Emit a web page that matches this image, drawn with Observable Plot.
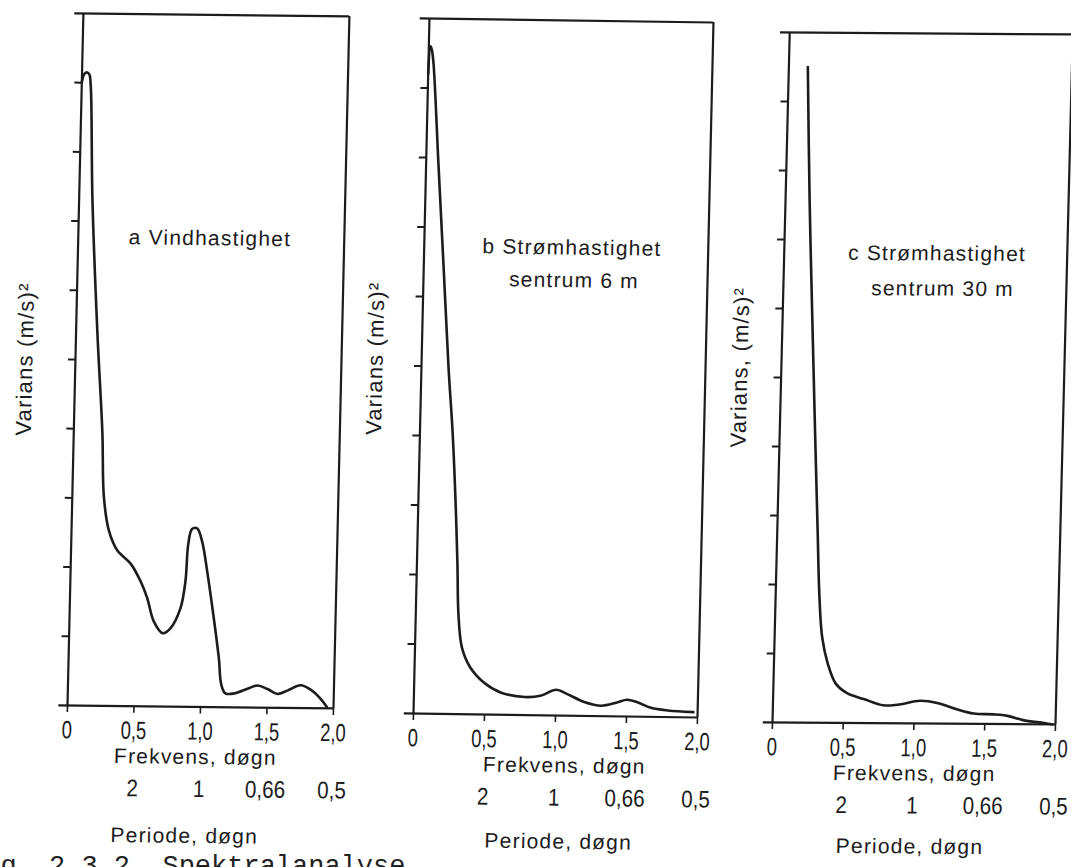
<!DOCTYPE html>
<html><head><meta charset="utf-8">
<script src="https://cdn.jsdelivr.net/npm/d3@7"></script>
<script src="https://cdn.jsdelivr.net/npm/@observablehq/plot@0.6"></script>
<style>
html,body{margin:0;padding:0;background:#fff;}
#page{position:relative;width:1071px;height:867px;overflow:hidden;background:#fff;}
#page svg{position:absolute;overflow:visible;}
.caption{position:absolute;left:-32px;top:854px;font-family:"Liberation Mono",monospace;font-size:27px;line-height:27px;color:#222;white-space:pre;}
</style></head><body><div id="page"></div>
<script>
// ---- data ----
const freqTicks = [0, 0.5, 1, 1.5, 2];
const freqTickLabels = ["0", "0,5", "1,0", "1,5", "2,0"];
const periodTicks = [0.5, 1, 1.5, 2];
const periodLabels = ["2", "1", "0,66", "0,5"];
const varianceTicks = [1, 2, 3, 4, 5, 6, 7, 8, 9];
const freqAxisTitle = "Frekvens, døgn";
const periodAxisTitle = "Periode, døgn";
const captionText = "Fig. 2.3.2. Spektralanalyse";

const aFreq = [0, 0.015, 0.035, 0.055, 0.068, 0.10, 0.16, 0.215, 0.237, 0.28, 0.347, 0.45, 0.527, 0.58, 0.634, 0.704, 0.76, 0.832, 0.865, 0.88, 0.906, 0.944, 0.984, 1.027, 1.085, 1.13, 1.152, 1.185, 1.25, 1.35, 1.426, 1.50, 1.577, 1.65, 1.75, 1.83, 1.89, 1.95];
const aVar  = [9.0, 9.12, 9.15, 9.12, 8.95, 7.32, 5.4, 3.95, 3.03, 2.54, 2.25, 2.06, 1.81, 1.57, 1.23, 1.06, 1.13, 1.42, 1.81, 2.35, 2.57, 2.58, 2.39, 1.96, 1.28, 0.70, 0.33, 0.2, 0.2, 0.27, 0.32, 0.27, 0.2, 0.25, 0.33, 0.26, 0.16, 0.02];

const bFreq = [0, 0.012, 0.022, 0.036, 0.087, 0.139, 0.19, 0.23, 0.26, 0.285, 0.30, 0.33, 0.39, 0.49, 0.61, 0.78, 0.89, 1.0, 1.08, 1.2, 1.32, 1.43, 1.5, 1.57, 1.67, 1.79, 1.97];
const bVar  = [9.2, 9.6, 9.55, 9.35, 7.9, 6.45, 5.0, 4.05, 3.12, 2.17, 1.45, 0.96, 0.68, 0.46, 0.32, 0.26, 0.28, 0.37, 0.31, 0.2, 0.15, 0.2, 0.24, 0.21, 0.13, 0.095, 0.076];

const cFreq = [0.134, 0.17, 0.215, 0.25, 0.285, 0.31, 0.336, 0.38, 0.44, 0.525, 0.64, 0.78, 0.88, 1.04, 1.16, 1.30, 1.42, 1.56, 1.66, 1.77, 1.92, 1.98];
const cVar  = [9.5, 7.58, 5.65, 4.2, 2.79, 1.81, 1.24, 0.86, 0.57, 0.43, 0.35, 0.26, 0.27, 0.33, 0.3, 0.21, 0.15, 0.14, 0.12, 0.06, 0.02, 0.0];

const aTitles = ["a Vindhastighet"];
const bTitles = ["b Strømhastighet", "sentrum 6 m"];
const cTitles = ["c Strømhastighet", "sentrum 30 m"];
const yTitles = ["Varians (m/s)²", "Varians (m/s)²", "Varians, (m/s)²"];

// ---- layout ----
const ink = "#1c1c1c";
const wide = "Liberation Sans, Arial, sans-serif";
const narrowTick = "Liberation Sans, Arial, Helvetica, sans-serif";
const narrowPeriod = "Liberation Sans, Helvetica, Arial, sans-serif";
const squeeze = {[narrowTick]: 0.74, [narrowPeriod]: 0.86};

const panels = [
  {freq: aFreq, vari: aVar, titles: aTitles, yTitle: yTitles[0],
   x0: 67, y0: 705, W: 266, H: 692, sx: -0.023, sy: 0.011,
   titlePos: [[0.99, 6.77]], yDx: -50, yDy: 0, freqX: 0.97, periodX: 0.9, periodDy: 136},
  {freq: bFreq, vari: bVar, titles: bTitles, yTitle: yTitles[1],
   x0: 413, y0: 713, W: 284, H: 695, sx: -0.023, sy: 0.014,
   titlePos: [[1.04, 6.73], [1.06, 6.26]], yDx: -46, yDy: -7, freqX: 1.07, periodX: 1.04, periodDy: 133},
  {freq: cFreq, vari: cVar, titles: cTitles, yTitle: yTitles[2],
   x0: 772, y0: 722, W: 283, H: 690, sx: -0.025, sy: 0.007,
   titlePos: [[1.08, 6.81], [1.125, 6.30]], yDx: -41, yDy: -10, freqX: 1.01, periodX: 0.99, periodDy: 130}
];

const page = document.getElementById("page");

function condense(t, s) {
  const tr = t.getAttribute("transform");
  if (tr) {
    t.setAttribute("transform", tr + ` scale(${s},1)`);
  } else {
    const x = parseFloat(t.getAttribute("x"));
    const y = parseFloat(t.getAttribute("y"));
    const xs = t.getAttribute("x"), ys = t.getAttribute("y");
    const nx = (xs !== null && /^-?[\d.]+$/.test(xs)) ? x : 0;
    const ny = (ys !== null && /^-?[\d.]+$/.test(ys)) ? y : 0;
    if (xs !== null && /^-?[\d.]+$/.test(xs)) t.setAttribute("x", 0);
    if (ys !== null && /^-?[\d.]+$/.test(ys)) t.setAttribute("y", 0);
    t.setAttribute("transform", `translate(${nx},${ny}) scale(${s},1)`);
  }
}

function makePanel(p) {
  const ml = 70, mr = 20, mt = 20, mb = 150;
  const data = p.freq.map((f, i) => ({f, v: p.vari[i]}));
  const svg = Plot.plot({
    width: ml + p.W + mr, height: mt + p.H + mb,
    marginLeft: ml, marginRight: mr, marginTop: mt, marginBottom: mb,
    x: {domain: [0, 2]},
    y: {domain: [0, 10]},
    style: {background: "transparent", color: ink, fontFamily: wide},
    marks: [
      Plot.ruleY([0, 10], {x1: -0.065, x2: 2, stroke: ink, strokeWidth: 2.2}),
      Plot.ruleX([0, 2], {y1: 0, y2: 10, stroke: ink, strokeWidth: 2.2}),
      Plot.axisY({ticks: varianceTicks, tickSize: 7, tickFormat: () => "", label: null, stroke: ink, strokeWidth: 2}),
      Plot.axisX({ticks: freqTicks, tickSize: 7, tickPadding: 8,
        tickFormat: d => freqTickLabels[freqTicks.indexOf(d)], label: null,
        fontSize: 25, fontFamily: narrowTick, stroke: ink, strokeWidth: 1.6, fill: ink}),
      Plot.text(periodTicks, {x: d => d, frameAnchor: "bottom", dy: 90,
        text: (d, i) => periodLabels[i], fontSize: 24, fontFamily: narrowPeriod, fill: ink}),
      Plot.text([freqAxisTitle], {x: () => p.freqX, frameAnchor: "bottom", dy: 57,
        text: d => d, fontSize: 21, fontFamily: wide, fill: ink}),
      Plot.text([periodAxisTitle], {x: () => p.periodX, frameAnchor: "bottom", dy: p.periodDy,
        text: d => d, fontSize: 21, fontFamily: wide, fill: ink}),
      Plot.text(p.titles, {x: (d, i) => p.titlePos[i][0], y: (d, i) => p.titlePos[i][1],
        text: d => d, fontSize: 21, fontFamily: wide, fill: ink}),
      Plot.text([p.yTitle], {frameAnchor: "left", textAnchor: "middle", rotate: -90, dx: p.yDx, dy: p.yDy,
        text: d => d, fontSize: 22, fontFamily: wide, fill: ink}),
      Plot.line(data, {x: "f", y: "v", curve: "catmull-rom", stroke: ink, strokeWidth: 2.6})
    ]
  });
  svg.style.left = (p.x0 - ml) + "px";
  svg.style.top = (p.y0 - p.H - mt) + "px";
  svg.style.transformOrigin = `${ml}px ${mt + p.H}px`;
  svg.style.transform = `matrix(1, ${p.sy}, ${p.sx}, 1, 0, 0)`;
  page.appendChild(svg);
  // letter spacing for the lettering, condensed digits for the numbers
  svg.querySelectorAll("text").forEach(t => {
    const holder = t.closest("[font-family]");
    const fam = holder ? holder.getAttribute("font-family") : null;
    if (fam === wide) {
      t.style.letterSpacing = "1.2px";
    } else if (fam in squeeze) {
      condense(t, squeeze[fam]);
    }
  });
}

panels.forEach(makePanel);

const cap = document.createElement("div");
cap.className = "caption";
cap.textContent = captionText;
page.appendChild(cap);
</script>
</body></html>
